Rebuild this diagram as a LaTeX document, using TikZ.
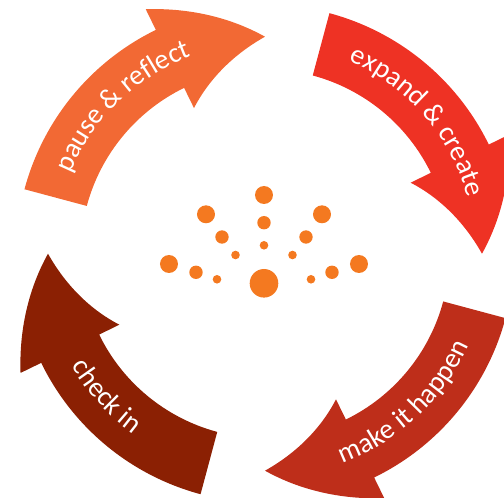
\documentclass[tikz,border=0pt]{standalone}
\usepackage{fontspec}
\setmainfont{Carlito}
\usetikzlibrary{decorations.text}
\definecolor{cPause}{RGB}{242,105,52}
\definecolor{cExpand}{RGB}{238,50,36}
\definecolor{cMake}{RGB}{190,46,26}
\definecolor{cCheck}{RGB}{139,32,3}
\definecolor{cDot}{RGB}{244,121,32}
\tikzset{
  orangedot/.style={fill=cDot},
  arclabel/.style={decorate, decoration={text along path, text align=center,
     text={|\color{white}\fontsize{28}{30}\selectfont|#1}}}
}
% #1 = tip angle, #2 = colour
\newcommand\cyclearrow[2]{%
  \fill[#2] ({#1+75}:249) arc[start angle={#1+75}, end angle={#1+26}, radius=249]
    -- ({#1+26}:272)
    -- plot[domain=0:1, samples=30, variable=\q]
        ({(272-55*\q)*cos(#1+26-26*\q)}, {(272-55*\q)*sin(#1+26-26*\q)})
    -- plot[domain=0:1, samples=30, variable=\q]
        ({(217-55*\q)*cos(#1+26*\q)}, {(217-55*\q)*sin(#1+26*\q)})
    -- ({#1+26}:184.5) arc[start angle={#1+26}, end angle={#1+75}, radius=184.5]
    -- cycle;}
\begin{document}
\begin{tikzpicture}[x=1pt, y=1pt]
\useasboundingbox (-265,-244.3) rectangle (239,253.7);
\clip (-265,-244.3) rectangle (239,253.7);
\coordinate (c) at (0,0);
% arrows
\cyclearrow{90}{cPause}
\cyclearrow{0}{cExpand}
\cyclearrow{-90}{cMake}
\cyclearrow{180}{cCheck}
% labels
\path[arclabel={pause {\&} reflect}] (179:210.5) arc[start angle=179, end angle=89, radius=210.5];
\path[arclabel={expand {\&} create}] (86:210.5) arc[start angle=86, end angle=-4, radius=210.5];
\path[arclabel={make it happen}] (-92:223.5) arc[start angle=-92, end angle=-2, radius=223.5];
\path[arclabel={check in}] (177:223.5) arc[start angle=177, end angle=267, radius=223.5];
% dots
\fill[orangedot] (-1,58.7) circle[radius=9];
\fill[orangedot] (-1,31) circle[radius=6.7];
\fill[orangedot] (-1,8.4) circle[radius=4.3];
\fill[orangedot] (-1,-29.6) circle[radius=14.3];
\foreach \s in {-1,1}{
  \fill[orangedot] ({-1+\s*58},39.4) circle[radius=9];
  \fill[orangedot] ({-1+\s*42},16.7) circle[radius=6.7];
  \fill[orangedot] ({-1+\s*28.5},-1.3) circle[radius=4.3];
  \fill[orangedot] ({-1+\s*95},-10.3) circle[radius=9];
  \fill[orangedot] ({-1+\s*68},-18.6) circle[radius=6.7];
  \fill[orangedot] ({-1+\s*47},-25.6) circle[radius=4.3];
}
\end{tikzpicture}
\end{document}
